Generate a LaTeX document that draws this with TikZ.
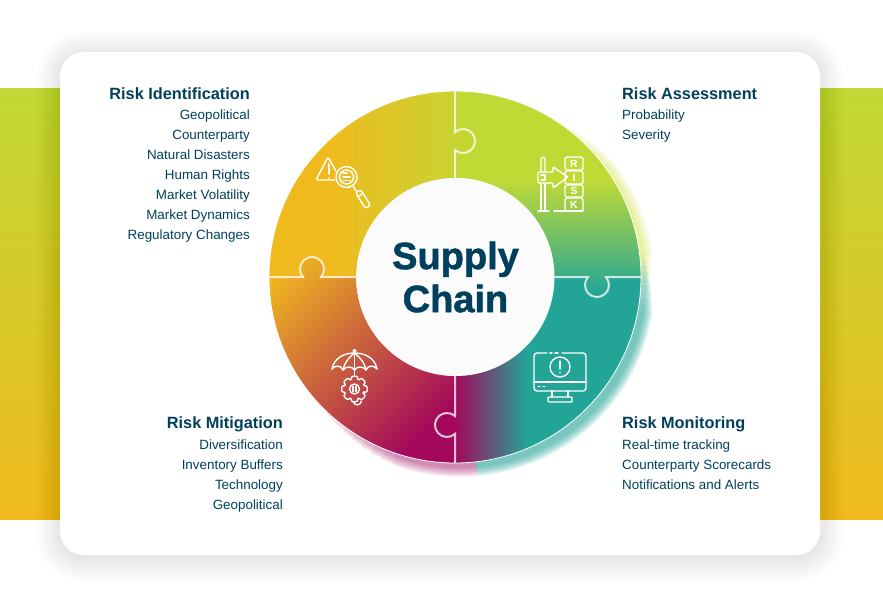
\documentclass[tikz,border=0pt]{standalone}
\usepackage{fontspec}
\setmainfont{Liberation Sans}
\newfontfamily\titlefont[FakeBold=1.4]{Liberation Sans Bold}
\usetikzlibrary{arrows.meta}

\definecolor{inkblue}{HTML}{00405C}
\definecolor{riskgreen}{HTML}{C0D935}
\definecolor{riskyellow}{HTML}{F0BA1F}
\definecolor{riskteal}{HTML}{22A597}
\definecolor{riskmagenta}{HTML}{A3085C}
\definecolor{hubwhite}{HTML}{FBFBFB}

\pgfdeclareverticalshading{mitigationfade}{100bp}{color(0bp)=(riskmagenta); color(27bp)=(riskmagenta); color(80bp)=(riskyellow); color(100bp)=(riskyellow)}

% One puzzle piece, drawn top-left: #1 notch distance, #2 tab distance
\newcommand{\piecepath}[2]{(-99,0) -- ({-#1+8.9},0) arc[start angle=-42,end angle=222,radius=12] -- (-186,0) arc[start angle=180,end angle=90,radius=186] -- (0,{#2+8.9}) arc[start angle=132,end angle=-132,radius=12] -- (0,99) arc[start angle=90,end angle=180,radius=99] -- cycle}
\newcommand{\joinpath}[1]{(0,186) -- (0,{#1+8.9}) arc[start angle=132,end angle=-132,radius=12] -- (0,99)}

\tikzset{
  headtext/.style={text=inkblue, inner sep=0pt, font=\fontsize{16.3}{20}\selectfont\bfseries},
  itemtext/.style={text=inkblue, inner sep=0pt, font=\fontsize{13.4}{20}\selectfont},
  joinline/.style={white, opacity=0.75, line width=2pt},
  iconline/.style={white, line width=1.4pt, line cap=round, line join=round},
  blockletter/.style={text=white, inner sep=0pt, font=\fontsize{10.5}{10}\selectfont\bfseries},
}

\begin{document}
\begin{tikzpicture}[x=1pt,y=-1pt]
  \useasboundingbox (0,0) rectangle (883,608);

  % Colour band behind the card
  \shade[top color=riskgreen, bottom color=riskyellow] (0,88) rectangle (883,519);

  % Card shadow
  \foreach \d in {1,...,24} {
    \fill[black, opacity=0.0036, rounded corners={24pt+\d pt}] ({60-\d},{52-\d+3}) rectangle ({820+\d},{555+\d+3});
  }
  \fill[white, rounded corners=24pt] (60,52) rectangle (820,555);

  % Wheel, y upwards from its centre
  \begin{scope}[shift={(455,277)},y=1pt]
    % Glow round the rim
    \foreach \d in {0,...,9} {
      \fill[riskgreen!70!yellow, opacity=0.05] (5,-5) -- ++({-4+1.4*\d}:186+\d) arc[start angle={-4+1.4*\d},end angle={66-3*\d},radius=186+\d] -- cycle;
      \fill[riskteal, opacity=0.085] (5,-5) -- ++(-85:186+\d) arc[start angle=-85,end angle={9-2*\d},radius=186+\d] -- cycle;
      \fill[riskmagenta, opacity=0.06] (5,-5) -- ++({-142+3.5*\d}:186+\d) arc[start angle={-142+3.5*\d},end angle=-85,radius=186+\d] -- cycle;
    }

    % Top-left piece
    \begin{scope}
      \clip \piecepath{143}{136};
      \fill[riskyellow] (-200,-20) rectangle (30,200);
      \shade[left color=riskyellow, right color=riskgreen] (-125,-20) rectangle (25,200);
    \end{scope}

    % Top-right piece
    \begin{scope}
      \clip[rotate=-90] \piecepath{136}{142};
      \fill[riskgreen] (-20,200) rectangle (200,-30);
      \shade[top color=riskgreen, bottom color=riskteal] (-20,97) rectangle (200,-18);
    \end{scope}

    % Bottom-right piece
    \begin{scope}
      \clip[rotate=-180] \piecepath{142}{148};
      \fill[riskteal] (-30,-200) rectangle (200,20);
      \fill[riskmagenta] (-30,-200) rectangle (1,20);
      \shade[left color=riskmagenta, right color=riskteal] (0,-200) rectangle (72,20);
    \end{scope}

    % Bottom-left piece
    \begin{scope}
      \clip[rotate=-270] \piecepath{148}{143};
      \shade[shading=mitigationfade, shading angle=45] (-200,-190) rectangle (10,20);
    \end{scope}

    % Seams between the pieces
    \draw[joinline] \joinpath{136};
    \draw[joinline, rotate=-90] \joinpath{142};
    \draw[joinline, rotate=-180] \joinpath{148};
    \draw[joinline, rotate=-270] \joinpath{143};
    \draw[white, line width=0.8pt] (0,0) circle (186);
  \end{scope}

  % Hub
  \node[circle, fill=hubwhite, minimum size=198pt, inner sep=0pt, text=inkblue, align=center, font=\titlefont\fontsize{38}{43}\selectfont] (hub) at (455.5,277) {Supply\\Chain};

  % Identification icon
  \draw[iconline, rounded corners=1.5pt] (336,171) -- (328,157) -- (316,180) -- (335,180);
  \draw[iconline] (329,164) -- (329,174) (329,178) -- (329,178.2);
  \draw[iconline] (346.5,177) circle (10.5) (346.5,177) circle (7);
  \draw[iconline] (343,173) -- (347,173) (343,177) -- (350,177) (343,180.5) -- (350,180.5);
  \draw[iconline] (353,186) -- (356,191);
  \draw[iconline, rounded corners=2.5pt] (360.5,189.4) -- (370.5,205.4) -- (365.5,208.6) -- (355.5,192.6) -- cycle;
  \draw[iconline] (359,196) -- (363,193.5);

  % Assessment icon
  \draw[iconline] (541,172) -- (541,159) -- (542,157.5) -- (544,157.5) -- (545,159) -- (545,172);
  \draw[iconline] (541,184) -- (541,211) (545,184) -- (545,211);
  \draw[iconline] (538,211) -- (549,211) (554,211) -- (583,211);
  \draw[iconline, rounded corners=1pt] (553,172) -- (553,167) -- (568,177) -- (553,188) -- (553,183) -- (538,183) -- (538,172) -- cycle;
  \draw[iconline] (541,175) -- (545,175) -- (545,180) -- (541,180);
  \foreach \y/\z/\ltr in {157/170/R,171/184/I,185/197/S,198/211/K} {
    \draw[iconline, rounded corners=1.5pt] (565,\y) rectangle (583,\z);
    \node[blockletter] (block\ltr) at (574,{(\y+\z)/2}) {\ltr};
  }

  % Monitoring icon
  \draw[iconline, rounded corners=3pt] (547,353) -- (534,353) -- (534,391) -- (586,391) -- (586,353) -- (562,353);
  \draw[iconline] (550,353) -- (552,353) (555,353) -- (558,353);
  \draw[iconline] (534,382) -- (586,382);
  \draw[iconline] (538,386.5) -- (540,386.5) (543,386.5) -- (545,386.5);
  \draw[iconline] (560,367) circle (10);
  \draw[iconline] (560,361) -- (560,369) (560,372.5) -- (560,372.7);
  \draw[iconline] (552,391) -- (552,397) (568,391) -- (568,397);
  \draw[iconline, rounded corners=1pt] (548,397) rectangle (572,402);

  % Mitigation icon
  \draw[iconline] (332,369) .. controls (334,358) and (344,353) .. (354.5,353) .. controls (365,353) and (375,358) .. (377,369);
  \draw[iconline] (332,369) .. controls (335,365) and (341,365) .. (343,370) .. controls (346,366) and (352,366) .. (354.5,370) .. controls (357,366) and (363,366) .. (366,370) .. controls (368,365) and (374,365) .. (377,369);
  \draw[iconline] (354.5,353) .. controls (348,358) and (344,364) .. (343,370);
  \draw[iconline] (354.5,353) .. controls (361,358) and (365,364) .. (366,370);
  \draw[iconline] (354.5,353) -- (354.5,370);
  \fill[white] (354.5,351) circle (2);
  \draw[iconline] (354.5,370) -- (354.5,376);
  \begin{scope}[shift={(354.5,389)},y=1pt]
    \draw[iconline, rounded corners=1pt] (-22:9.5) foreach \a in {0,45,...,315} { -- (\a-12:13) -- (\a+12:13) -- (\a+22:9.5) } -- cycle;
    \draw[iconline] (0,0) circle (5);
    \draw[iconline] (-1.5,-2.5) -- (-1.5,2.5) (1.5,-2.5) -- (1.5,2.5);
    \draw[iconline] (-1,-13) .. controls (0,-17) and (6,-17) .. (7,-12);
  \end{scope}

  % Risk Identification
  \node[headtext, anchor=base east] (idhead) at (250,99) {Risk Identification};
  \node[itemtext, anchor=north east, align=right] (iditems) at (250,109.5) {Geopolitical\\Counterparty\\Natural Disasters\\Human Rights\\Market Volatility\\Market Dynamics\\Regulatory Changes};

  % Risk Assessment
  \node[headtext, anchor=base west] (ashead) at (622,99) {Risk Assessment};
  \node[itemtext, anchor=north west, align=left] (asitems) at (622,109.5) {Probability\\Severity};

  % Risk Mitigation
  \node[headtext, anchor=base east] (mihead) at (283,428) {Risk Mitigation};
  \node[itemtext, anchor=north east, align=right] (miitems) at (283,439.5) {Diversification\\Inventory Buffers\\Technology\\Geopolitical};

  % Risk Monitoring
  \node[headtext, anchor=base west] (mohead) at (622,428) {Risk Monitoring};
  \node[itemtext, anchor=north west, align=left] (moitems) at (622,439.5) {Real-time tracking\\Counterparty Scorecards\\Notifications and Alerts};
\end{tikzpicture}
\end{document}
